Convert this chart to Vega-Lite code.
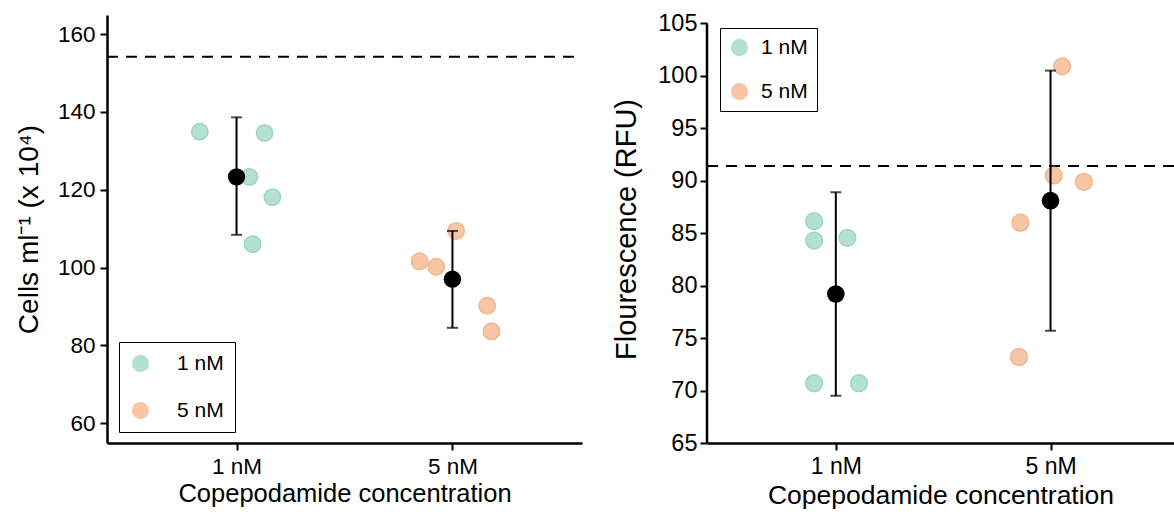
{
  "$schema": "https://vega.github.io/schema/vega-lite/v6.json",
  "background": "white",
  "padding": {"left": 15, "top": 11, "right": 0, "bottom": 0},
  "spacing": 29,
  "datasets": {
    "leftRaw": [
      {"conc": "1 nM", "x": 0.83, "y": 134.9},
      {"conc": "1 nM", "x": 1.13, "y": 134.6},
      {"conc": "1 nM", "x": 1.06, "y": 123.3},
      {"conc": "1 nM", "x": 1.166, "y": 118.1},
      {"conc": "1 nM", "x": 1.074, "y": 106.0},
      {"conc": "5 nM", "x": 2.017, "y": 109.4},
      {"conc": "5 nM", "x": 1.848, "y": 101.6},
      {"conc": "5 nM", "x": 1.925, "y": 100.2},
      {"conc": "5 nM", "x": 2.161, "y": 90.2},
      {"conc": "5 nM", "x": 2.181, "y": 83.6}
    ],
    "leftSummary": [
      {"conc": "1 nM", "x": 1, "y": 123.3, "lo": 108.4, "hi": 138.6},
      {"conc": "5 nM", "x": 2, "y": 97.0, "lo": 84.5, "hi": 109.4}
    ],
    "leftRef": [{"x": 0.4, "x2": 2.6, "y": 154.2}],
    "rightRaw": [
      {"conc": "1 nM", "x": 0.899, "y": 86.15},
      {"conc": "1 nM", "x": 0.899, "y": 84.3},
      {"conc": "1 nM", "x": 1.054, "y": 84.56},
      {"conc": "1 nM", "x": 0.899, "y": 70.7},
      {"conc": "1 nM", "x": 1.108, "y": 70.7},
      {"conc": "5 nM", "x": 2.054, "y": 100.9},
      {"conc": "5 nM", "x": 2.015, "y": 90.5},
      {"conc": "5 nM", "x": 2.155, "y": 89.9},
      {"conc": "5 nM", "x": 1.86, "y": 86.0},
      {"conc": "5 nM", "x": 1.853, "y": 73.2}
    ],
    "rightSummary": [
      {"conc": "1 nM", "x": 1, "y": 79.2, "lo": 69.5, "hi": 88.9},
      {"conc": "5 nM", "x": 2, "y": 88.1, "lo": 75.7, "hi": 100.5}
    ],
    "rightRef": [{"x": 0.4, "x2": 2.575, "y": 91.4}],
    "rightAxisLine": [{"x": 0.4, "lo": 65, "hi": 105}]
  },
  "resolve": {"scale": {"color": "independent", "stroke": "independent"}, "legend": {"color": "independent"}},
  "hconcat": [
    {
      "width": 475,
      "height": 428,
      "encoding": {
        "x": {"field": "x", "type": "quantitative",
              "scale": {"domain": [0.4, 2.6], "nice": false, "zero": false},
              "axis": {"values": [1, 2], "labelExpr": "datum.value == 1 ? '1 nM' : '5 nM'"},
              "title": "Copepodamide concentration"},
        "y": {"field": "y", "type": "quantitative",
              "scale": {"domain": [54.9, 164.9], "nice": false, "zero": false},
              "axis": {"values": [60, 80, 100, 120, 140, 160], "titlePadding": 14, "titleFontSize": 28},
              "title": "Cells ml⁻¹ (x 10⁴)"}
      },
      "layer": [
        {
          "data": {"name": "leftRef"},
          "mark": {"type": "rule", "strokeDash": [11, 8], "strokeWidth": 2, "color": "black"},
          "encoding": {"x2": {"field": "x2"}}
        },
        {
          "data": {"name": "leftRaw"},
          "mark": {"type": "point", "filled": true, "size": 270, "opacity": 1, "shape": "circle", "strokeWidth": 1.5},
          "encoding": {
            "color": {"field": "conc", "type": "nominal",
                      "scale": {"domain": ["1 nM", "5 nM"], "range": ["#B3E0D1", "#F6C6A5"]},
                      "legend": {"orient": "none", "legendX": 12, "legendY": 327, "title": null,
                                 "strokeColor": "black", "fillColor": "white", "padding": 11,
                                 "symbolType": "circle", "symbolSize": 300, "symbolOpacity": 1,
                                 "symbolStrokeWidth": 0,
                                 "labelFontSize": 21, "labelOffset": 26, "rowPadding": 25, "labelColor": "black"}},
            "stroke": {"field": "conc", "type": "nominal",
                       "scale": {"domain": ["1 nM", "5 nM"], "range": ["#9DD6C2", "#F0B68F"]},
                       "legend": null}
          }
        },
        {
          "data": {"name": "leftSummary"},
          "mark": {"type": "rule", "strokeWidth": 2, "color": "black"},
          "encoding": {
            "y": {"field": "lo", "type": "quantitative", "title": "Cells ml⁻¹ (x 10⁴)"},
            "y2": {"field": "hi"}
          }
        },
        {
          "data": {"name": "leftSummary"},
          "mark": {"type": "tick", "orient": "horizontal", "size": 11, "thickness": 2, "color": "black"},
          "encoding": {
            "y": {"field": "lo", "type": "quantitative", "title": "Cells ml⁻¹ (x 10⁴)"}
          }
        },
        {
          "data": {"name": "leftSummary"},
          "mark": {"type": "tick", "orient": "horizontal", "size": 11, "thickness": 2, "color": "black"},
          "encoding": {
            "y": {"field": "hi", "type": "quantitative", "title": "Cells ml⁻¹ (x 10⁴)"}
          }
        },
        {
          "data": {"name": "leftSummary"},
          "mark": {"type": "point", "filled": true, "size": 300, "opacity": 1, "color": "black", "shape": "circle"}
        }
      ]
    },
    {
      "width": 467,
      "height": 428,
      "encoding": {
        "x": {"field": "x", "type": "quantitative",
              "scale": {"domain": [0.4, 2.575], "nice": false, "zero": false},
              "axis": {"values": [1, 2], "labelExpr": "datum.value == 1 ? '1 nM' : '5 nM'", "labelFontSize": 23, "titleFontSize": 26.5},
              "title": "Copepodamide concentration"},
        "y": {"field": "y", "type": "quantitative",
              "scale": {"domain": [65, 105.8], "nice": false, "zero": false},
              "axis": {"values": [65, 70, 75, 80, 85, 90, 95, 100, 105], "domain": false, "labelFontSize": 23.5, "titleFontSize": 29, "titlePadding": 16, "labelPadding": 3},
              "title": "Flourescence (RFU)"}
      },
      "layer": [
        {
          "data": {"name": "rightRef"},
          "mark": {"type": "rule", "strokeDash": [11, 8], "strokeWidth": 2, "color": "black"},
          "encoding": {"x2": {"field": "x2"}}
        },
        {
          "data": {"name": "rightAxisLine"},
          "mark": {"type": "rule", "strokeWidth": 2.5, "color": "black"},
          "encoding": {
            "y": {"field": "lo", "type": "quantitative", "title": "Flourescence (RFU)"},
            "y2": {"field": "hi"}
          }
        },
        {
          "data": {"name": "rightRaw"},
          "mark": {"type": "point", "filled": true, "size": 280, "opacity": 1, "shape": "circle", "strokeWidth": 1.5},
          "encoding": {
            "color": {"field": "conc", "type": "nominal",
                      "scale": {"domain": ["1 nM", "5 nM"], "range": ["#B3E0D1", "#F6C6A5"]},
                      "legend": {"orient": "none", "legendX": 13, "legendY": 13, "title": null,
                                 "strokeColor": "black", "fillColor": "white", "padding": 9,
                                 "symbolType": "circle", "symbolSize": 300, "symbolOpacity": 1,
                                 "symbolStrokeWidth": 0,
                                 "labelFontSize": 21, "labelOffset": 11, "rowPadding": 22, "labelColor": "black"}},
            "stroke": {"field": "conc", "type": "nominal",
                       "scale": {"domain": ["1 nM", "5 nM"], "range": ["#9DD6C2", "#F0B68F"]},
                       "legend": null}
          }
        },
        {
          "data": {"name": "rightSummary"},
          "mark": {"type": "rule", "strokeWidth": 2, "color": "black"},
          "encoding": {
            "y": {"field": "lo", "type": "quantitative", "title": "Flourescence (RFU)"},
            "y2": {"field": "hi"}
          }
        },
        {
          "data": {"name": "rightSummary"},
          "mark": {"type": "tick", "orient": "horizontal", "size": 11, "thickness": 2, "color": "black"},
          "encoding": {
            "y": {"field": "lo", "type": "quantitative", "title": "Flourescence (RFU)"}
          }
        },
        {
          "data": {"name": "rightSummary"},
          "mark": {"type": "tick", "orient": "horizontal", "size": 11, "thickness": 2, "color": "black"},
          "encoding": {
            "y": {"field": "hi", "type": "quantitative", "title": "Flourescence (RFU)"}
          }
        },
        {
          "data": {"name": "rightSummary"},
          "mark": {"type": "point", "filled": true, "size": 310, "opacity": 1, "color": "black", "shape": "circle"}
        }
      ]
    }
  ],
  "config": {
    "font": "Liberation Sans",
    "view": {"stroke": null},
    "axis": {
      "grid": false,
      "domainColor": "black",
      "domainWidth": 2.5,
      "tickColor": "black",
      "tickWidth": 2,
      "tickSize": 7,
      "labelColor": "black",
      "titleColor": "black",
      "labelFontSize": 22.5,
      "titleFontSize": 25.5,
      "titleFontWeight": "normal",
      "labelPadding": 5,
      "titlePadding": 4
    },
    "axisX": {"labelPadding": 5, "titlePadding": 4, "labelFlush": false},
    "axisY": {"labelFlush": false}
  }
}
